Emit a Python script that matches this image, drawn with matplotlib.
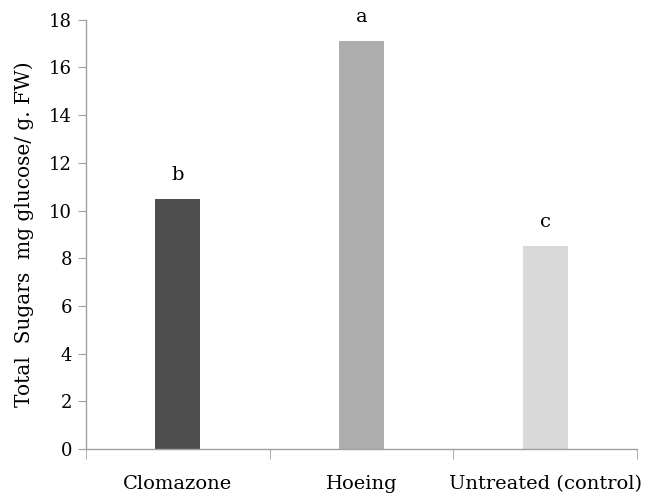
import numpy as np
import matplotlib.pyplot as plt

# data
treatments = ['Clomazone', 'Hoeing', 'Untreated (control)']
sugars = [10.5, 17.1, 8.5]
letters = ['b', 'a', 'c']
bar_colors = ['#4d4d4d', '#adadad', '#d9d9d9']

plt.rcParams['font.family'] = ['DejaVu Serif']
plt.rcParams['font.size'] = 13

fig = plt.figure(figsize=(6.46, 4.95), dpi=100)
ax = fig.add_axes([0.133, 0.093, 0.853, 0.867])

x = np.arange(len(treatments))
ax.bar(x, sugars, width=0.245, color=bar_colors, zorder=2)

for xi, v, lab in zip(x, sugars, letters):
    ax.text(xi, v + 1.0, lab, ha='center', va='center', fontsize=14, clip_on=False)

ax.set_xlim(-0.5, len(treatments) - 0.5)
ax.set_ylim(0, 18)
ax.set_yticks(np.arange(0, 19, 2))

# category labels centered, ticks at category borders
ax.set_xticks(x)
ax.set_xticklabels(treatments, fontsize=14)
ax.set_xticks(np.arange(-0.5, len(treatments), 1), minor=True)
ax.tick_params(axis='x', which='major', length=0, pad=19)
ax.tick_params(axis='x', which='minor', length=7, color='#a0a0a0', direction='out')
ax.tick_params(axis='y', length=6, color='#a0a0a0', direction='out', pad=4)

for s in ['top', 'right']:
    ax.spines[s].set_visible(False)
for s in ['left', 'bottom']:
    ax.spines[s].set_color('#a0a0a0')
    ax.spines[s].set_linewidth(1.0)

ax.set_ylabel('Total  Sugars  mg glucose/ g. FW)', fontsize=14.5, labelpad=11)

fig.savefig('out.png', dpi=100)
